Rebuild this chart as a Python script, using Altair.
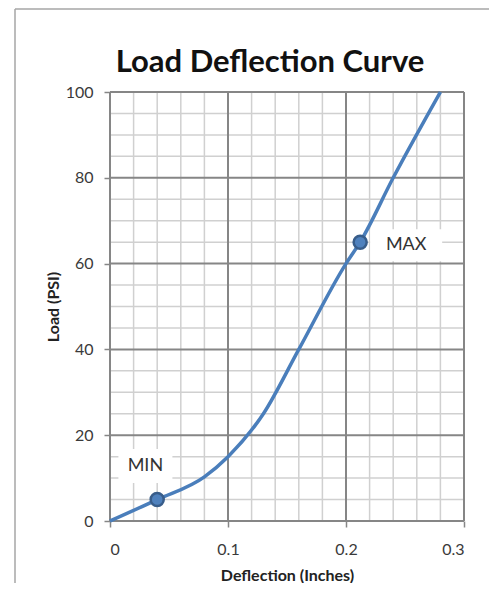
import altair as alt
import pandas as pd

# data
deflection = [0.0, 0.04, 0.08, 0.10, 0.13, 0.16, 0.20, 0.212, 0.24, 0.28]
load = [0, 5, 10.3, 15, 25, 40, 60, 65, 80, 100]

marker_x = [0.04, 0.212]
marker_y = [5, 65]

label_text = ["MIN", "MAX"]
label_x = [0.030, 0.251]
label_y = [12.8, 64.3]

x_major = [0.0, 0.1, 0.2, 0.3]
y_major = [0, 20, 40, 60, 80, 100]
x_minor = [0.02, 0.04, 0.06, 0.08, 0.12, 0.14, 0.16, 0.18, 0.22, 0.24, 0.26, 0.28]
y_minor = [5, 10, 15, 25, 30, 35, 45, 50, 55, 65, 70, 75, 85, 90, 95]

FONT = "Lato"
W, H = 354, 429

xs = alt.Scale(domain=[0, 0.3], nice=False, zero=False)
ys = alt.Scale(domain=[0, 100], nice=False, zero=False)

curve = pd.DataFrame({"x": deflection, "y": load})
markers = pd.DataFrame({"x": marker_x, "y": marker_y})
labels = pd.DataFrame({"t": label_text, "x": label_x, "y": label_y})

base_x_axis = alt.Axis(values=x_major, format="~g", grid=False, domain=False,
                       tickSize=6, tickColor="#868686", tickWidth=1.5,
                       labelFont=FONT, labelFontSize=16, labelColor="#3a3a3a",
                       labelPadding=14, title="Deflection (Inches)",
                       titleFont=FONT, titleFontSize=16, titleFontWeight="bold",
                       titleColor="#222222", titlePadding=10)
base_y_axis = alt.Axis(values=y_major, grid=False, domain=False,
                       tickSize=6, tickColor="#868686", tickWidth=1.5,
                       labelFont=FONT, labelFontSize=16, labelColor="#3a3a3a",
                       labelPadding=11, title="Load (PSI)",
                       titleFont=FONT, titleFontSize=16, titleFontWeight="bold",
                       titleColor="#222222", titlePadding=4)

dummy = pd.DataFrame({"a": [0]})
frame_left = alt.Chart(dummy).mark_rule(color="#a6a6a6", strokeWidth=1.5).encode(
    x=alt.value(-95), y=alt.value(-83), y2=alt.value(700))
frame_top = alt.Chart(dummy).mark_rule(color="#a6a6a6", strokeWidth=1.5).encode(
    x=alt.value(-95), x2=alt.value(700), y=alt.value(-83))

minor_v = alt.Chart(pd.DataFrame({"x": x_minor})).mark_rule(
    color="#d0d0d0", strokeWidth=1.5
).encode(x=alt.X("x:Q", scale=xs, axis=base_x_axis))
minor_h = alt.Chart(pd.DataFrame({"y": y_minor})).mark_rule(
    color="#d0d0d0", strokeWidth=1.5
).encode(y=alt.Y("y:Q", scale=ys, axis=base_y_axis))
major_v = alt.Chart(pd.DataFrame({"x": x_major})).mark_rule(
    color="#868686", strokeWidth=2
).encode(x=alt.X("x:Q", scale=xs))
major_h = alt.Chart(pd.DataFrame({"y": y_major})).mark_rule(
    color="#868686", strokeWidth=2
).encode(y=alt.Y("y:Q", scale=ys))

boxes_min = alt.Chart(labels[labels.t == "MIN"]).mark_rect(
    fill="white", width=54, height=34
).encode(x=alt.X("x:Q", scale=xs), y=alt.Y("y:Q", scale=ys))
boxes_max = alt.Chart(labels[labels.t == "MAX"]).mark_rect(
    fill="white", width=72, height=32
).encode(x=alt.X("x:Q", scale=xs), y=alt.Y("y:Q", scale=ys))

line = alt.Chart(curve).mark_line(
    color="#4a7ebb", strokeWidth=3.5, interpolate="monotone"
).encode(x=alt.X("x:Q", scale=xs), y=alt.Y("y:Q", scale=ys))

points = alt.Chart(markers).mark_point(
    shape="circle", filled=True, fill="#4f81bd", stroke="#385d8a",
    strokeWidth=2.5, size=170, opacity=1
).encode(x=alt.X("x:Q", scale=xs), y=alt.Y("y:Q", scale=ys))

texts = alt.Chart(labels).mark_text(
    font=FONT, fontSize=18, color="#333333", align="center", baseline="middle"
).encode(x=alt.X("x:Q", scale=xs), y=alt.Y("y:Q", scale=ys), text="t:N")

title = alt.Chart(pd.DataFrame({"t": ["Load Deflection Curve"]})).mark_text(
    font=FONT, fontSize=31, fontWeight="bold", color="#111111",
    align="center", baseline="alphabetic"
).encode(x=alt.value(160), y=alt.value(-20), text="t:N")

chart = alt.layer(
    frame_left, frame_top, minor_v, minor_h, major_v, major_h, boxes_min, boxes_max,
    line, points, texts, title
).properties(
    width=W, height=H,
    autosize=alt.AutoSizeParams(type="none"),
    padding={"left": 102, "top": 84, "right": 25, "bottom": 62},
    background="white"
).configure_view(stroke=None)

chart.save("out.html", embed_options={"renderer": "svg", "actions": False})
